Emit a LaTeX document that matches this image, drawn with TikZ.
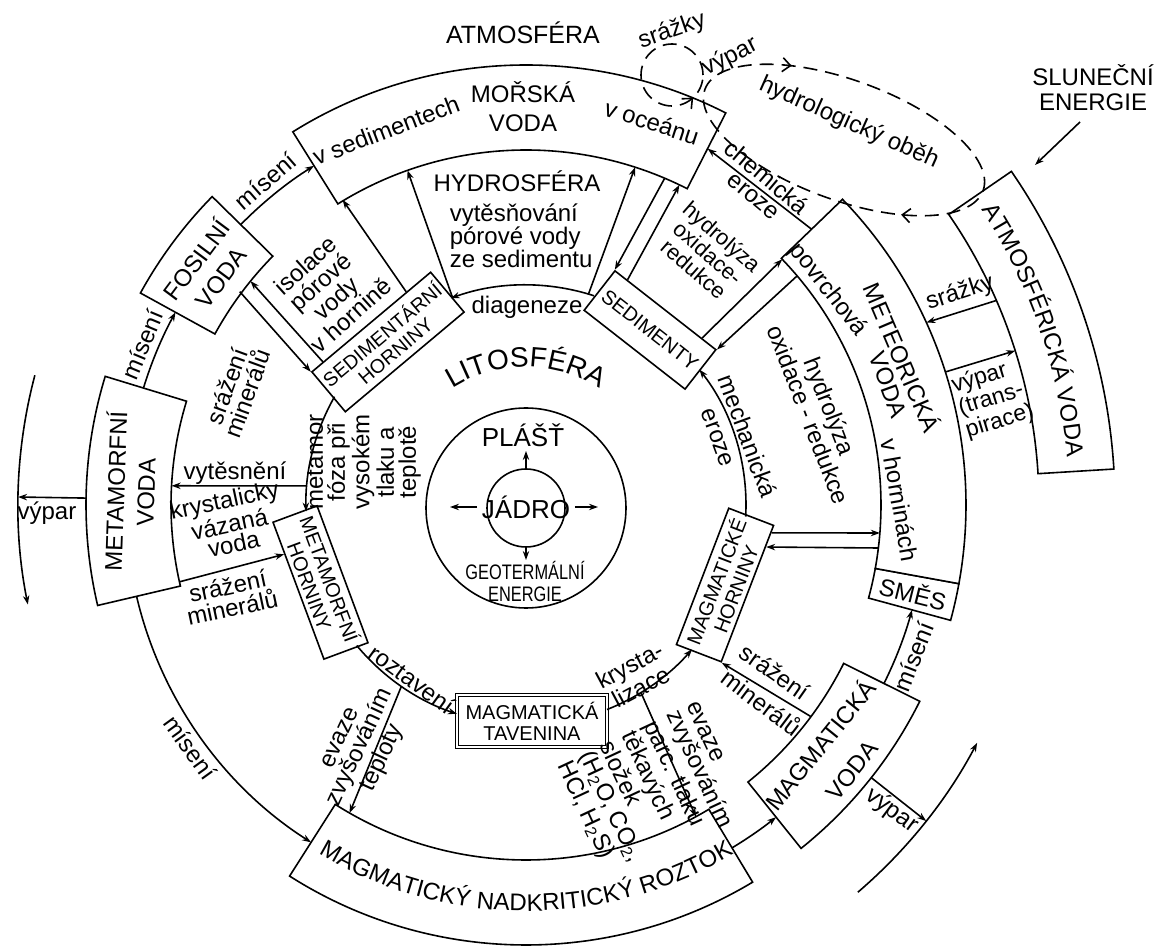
\documentclass[tikz,border=0pt]{standalone}
\usepackage{fontspec}
\usepackage{graphicx}
\setmainfont{Liberation Sans}
\usetikzlibrary{arrows.meta,decorations.text,decorations.markings,calc}
\newcommand{\ringsec}[2]{\draw[ringbox] (#1:355) arc[start angle=#1,end angle=#2,radius=355] -- (#2:440) arc[start angle=#2,end angle=#1,radius=440] -- cycle;}
\begin{document}
\begin{tikzpicture}[x=0.5pt,y=0.5pt,line width=0.8pt,
  every node/.style={inner sep=0pt,font=\fontsize{12}{11.5}\selectfont},
  arr/.style={-{Stealth[length=4.5pt,width=3.2pt]}},
  ringbox/.style={draw,fill=white},
  rbox/.style={draw,fill=white,align=center,font=\fontsize{10}{10.5}\selectfont},
  dsh/.style={dash pattern=on 7pt off 4pt},
  barb/.tip={Straight Barb[length=4pt,width=7pt]}]
\useasboundingbox (-526,-441) rectangle (629,505);

% ---------- ring sectors ----------
\ringsec{63}{122}
\ringsec{135.5}{151.2}
\ringsec{163}{193.2}
\ringsec{237.5}{301}
\ringsec{308.7}{333.5}
\ringsec{344.8}{349.7}
\ringsec{349.7}{404}
\draw[ringbox] (3.5:513) arc[start angle=3.5,end angle=34.5,radius=513] -- (34.5:589) arc[start angle=34.5,end angle=3.5,radius=589] -- cycle;

% ---------- outer circle arcs (mísení) ----------
\draw[arr] (135.5:400) arc[start angle=135.5,end angle=122,radius=400];
\draw[arr] (163:400) arc[start angle=163,end angle=151.2,radius=400];
\draw[arr] (193.2:400) arc[start angle=193.2,end angle=237.5,radius=400];
\draw[arr] (301:400) arc[start angle=301,end angle=308.7,radius=400];
\draw[arr] (333.5:400) arc[start angle=333.5,end angle=344.8,radius=400];
% výpar arcs
\draw[arr] (165.2:508) arc[start angle=165.2,end angle=191.3,radius=508];
\draw[arr] (179.1:440) -- (179.1:508);
\draw[arr] (-49.4:510) arc[start angle=-49.4,end angle=-27.8,radius=510];
\draw[arr] (-38.3:440) -- (-38.3:510);

% ---------- core ----------
\draw (0,-3) circle[radius=100];
\node[circle,draw,minimum size=39pt] (jadrocirc) at (0,-3) {};
\node[font=\fontsize{13}{13}\selectfont,inner sep=2pt] (jadro) at (0,-2) {JÁDRO};
\node[font=\fontsize{13}{13}\selectfont] (plast) at (-3,70) {PLÁŠŤ};
\node[align=center,font=\fontsize{10.5}{11}\selectfont] (geot) at (-1,-76) {\scalebox{0.78}[1]{GEOTERMÁLNÍ}\\\scalebox{0.78}[1]{ENERGIE}};
\coordinate (jl) at (-76,-2);
\coordinate (jr) at (72,-2);
\coordinate (ju) at (0,54);
\coordinate (jd) at (0,-55);
\draw[arr] (jadro.west) -- (jl);
\draw[arr] (jadro.east) -- (jr);
\draw[arr] (jadrocirc.north) -- (ju);
\draw[arr] (jadrocirc.south) -- (jd);

% ---------- lithosphere boxes ----------
\node[rbox,font=\fontsize{9.8}{10.3}\selectfont,minimum width=77.5pt,minimum height=26pt,rotate=40] (sedhor) at (-138,163) {SEDIMENTÁRNÍ\\HORNINY};
\node[rbox,minimum width=64pt,minimum height=25pt,rotate=-38] (sedim) at (124,175) {SEDIMENTY};
\node[rbox,minimum width=73pt,minimum height=24pt,rotate=69] (maghor) at (199,-80) {MAGMATICKÉ\\HORNINY};
\node[rbox,minimum width=73pt,minimum height=23.5pt,rotate=-69.6] (methor) at (-205.5,-77.5) {METAMORFNÍ\\HORNINY};
\node[rbox,double,double distance=0.8pt,minimum width=75pt,minimum height=26pt] (taven) at (6,-216) {MAGMATICKÁ\\TAVENINA};

% lithosphere arcs
\draw[arr] (72:220) arc[start angle=72,end angle=110,radius=220];
\draw[arr] (150.5:220) arc[start angle=150.5,end angle=181.7,radius=220];
\draw[arr] (219.7:220) arc[start angle=219.7,end angle=251.7,radius=220];
\draw[arr] (291.6:220) arc[start angle=291.6,end angle=319,radius=220];
\draw[arr] (-3:220) arc[start angle=-3,end angle=38,radius=220];

% ---------- connectors ----------
\draw[arr] (109.5:220) -- (109.5:355);
\draw[arr] (73.5:220) -- (72.1:355);
\draw[arr] (67:355) -- (sedim.north west);
\draw[arr] ($(sedim.north)!0.75!(sedim.north west)$) -- (64.4:355);
\draw[arr] (44:397) -- (63:400);
\draw[arr] ($(sedim.north)!0.71!(sedim.north east)$) -- (43.8:355);
\draw[arr] (40.2:355) -- (sedim.north east);
\draw[arr] ($(maghor.south)!0.886!(maghor.south east)$) -- (353.9,-28);
\draw[arr] (352.4,-43) -- ($(maghor.south)!0.68!(maghor.south east)$);
\draw[arr] (-36.6:355) -- (maghor.south west);
\draw[arr] (23.5:513) -- (24.5:440);
\draw[arr] (17.6:440) -- (17.5:513);
\draw[arr] (175:220) -- (-354.4,19.2);
\draw[arr] (192.5:355) -- ($(methor.south)!0.53!(methor.south west)$);
\draw[arr] ($(sedhor.north)!0.59!(sedhor.north east)$) -- (121:356);
\draw[arr] ($(sedhor.north)!0.8!(sedhor.north west)$) -- (140.9:355);
\draw[arr] (143.3:357) -- (sedhor.north west);
\draw[arr] (235.5:220) -- (240.2:355);
\draw[arr] (-58.5:220) -- (-61.4:355);

% ---------- hydrological cycle (dashed) ----------
\draw[dsh,postaction={decorate},decoration={markings,mark=at position 0.87 with {\arrow{barb}}}] (146,430) circle[radius=31];
\draw[dsh,rotate around={-20:(318,365)},postaction={decorate},decoration={markings,
   mark=at position 0.36 with {\arrowreversed{barb}},
   mark=at position 0.867 with {\arrowreversed{barb}}}] (318,365) ellipse[x radius=148,y radius=60];

% sun
\node[align=center,font=\fontsize{12}{12.5}\selectfont] (slunce) at (567,417) {SLUNEČNÍ\\ENERGIE};
\coordinate (sunA) at (554,383);
\coordinate (sunB) at (509,340);
\draw[arr] (sunA) -- (sunB);

% ---------- curved texts ----------
\path[decorate,decoration={text along path,text align=center,text={|\fontsize{12}{12}\selectfont|MAGMATICKÝ NADKRITICKÝ ROZTOK}}] (232:406) arc[start angle=232,end angle=308,radius=406];
\path[decorate,decoration={text along path,text align=center,text={|\fontsize{12}{12}\selectfont|ATMOSFÉRICKÁ VODA}}] (38:543) arc[start angle=38,end angle=0,radius=543];
\path[decorate,decoration={text along path,text align=center,text={|\fontsize{14}{14}\selectfont|LITOSFÉRA}}] (135:138) arc[start angle=135,end angle=45,radius=138];

% ---------- labels ----------
\node[font=\fontsize{12.5}{13}\selectfont] (atmosfera) at (-3,472) {ATMOSFÉRA};
\node[rotate=19] (srazkyA) at (146,474) {srážky};
\node[rotate=27] (vyparA) at (204,448) {výpar};
\node[rotate=-24] (hydob) at (323,382) {hydrologický oběh};
\node[align=center,font=\fontsize{12}{14.5}\selectfont] (morska) at (-3,398) {MOŘSKÁ\\VODA};
\node[rotate=21] (vsed) at (-140,375) {v sedimentech};
\node[rotate=-18] (voce) at (126,383) {v oceánu};
\node (hydrosf) at (-9,324) {HYDROSFÉRA};
\node[anchor=west,align=left] (vytes) at (-77,269) {vytěsňování\\pórové vody\\ze sedimentu};
\node (diag) at (1,198) {diageneze};
\node[rotate=42,align=center,font=\fontsize{12}{11.3}\selectfont] (isol) at (-198,215) {isolace\\pórové\\vody\\v hornině};
\node[rotate=53.35,align=center,font=\fontsize{12}{15}\selectfont] (fosil) at (143.35:397) {FOSILNÍ\\VODA};
\node[rotate=41] (mis1) at (128.8:416) {mísení};
\node[rotate=67.3] (mis2) at (157.3:416) {mísení};
\node[rotate=70,align=center,font=\fontsize{12}{10.8}\selectfont] (sraz1) at (-289,115) {srážení\\minerálů};
\node[rotate=88,align=center,font=\fontsize{12}{15}\selectfont] (metvoda) at (178.1:397) {METAMORFNÍ\\VODA};
\node (vypL) at (-479,-8) {výpar};
\node (vytesn) at (-291,32) {vytěsnění};
\node[rotate=90,align=center,font=\fontsize{12}{11}\selectfont] (metamorf) at (-162,43) {metamor\\fóza při\\vysokém\\tlaku a\\teplotě};
\node[rotate=12,align=center,font=\fontsize{12}{10.2}\selectfont] (kryst) at (-297,-17) {krystalicky\\vázaná\\voda};
\node[rotate=12,align=center,font=\fontsize{12}{11}\selectfont] (sraz2) at (-296,-92) {srážení\\minerálů};
\node[rotate=-54.2] (mis3) at (215.8:414) {mísení};
\node[rotate=-36] (roztav) at (-114,-174) {roztavení};
\node[rotate=65,align=center,font=\fontsize{12}{11}\selectfont] (evaze1) at (-163,-244) {evaze\\zvyšováním\\teploty};
\node[rotate=28,align=center,font=\fontsize{12}{10.5}\selectfont] (krystal) at (109,-171) {krysta-\\lizace};
\node[rotate=-65,anchor=west,align=left,font=\fontsize{12}{11}\selectfont] (evaze2) at (99,-228) {evaze\\zvyšováním\\parc. tlaku\\těkavých\\složek\\(H\textsubscript{2}O, CO\textsubscript{2},\\HCl, H\textsubscript{2}S)};
\node[rotate=-35] (sraz3a) at (249,-167) {srážení};
\node[rotate=-37] (sraz3b) at (236,-197) {minerálů};
\node[rotate=68.6] (mis4) at (338.6:416) {mísení};
\node[rotate=51.1,align=center,font=\fontsize{12}{20}\selectfont] (magvoda) at (320.8:398.7) {MAGMATICKÁ\\VODA};
\node[rotate=-14] (smes) at (-12.75:397) {SMĚS};
\node[rotate=-36.5] (vypR) at (366,-306) {výpar};
\node[rotate=-80] (vhorn) at (374,5) {v horninách};
\node[rotate=-67] (meteo) at (377,148) {METEORICKÁ};
\node[rotate=-70] (meteov) at (362,120) {VODA};
\node[rotate=-52] (povrch) at (302,215) {povrchová};
\node[rotate=-69,align=center,font=\fontsize{12}{11.5}\selectfont] (hydro2) at (293.5,94.5) {hydrolýza\\oxidace - redukce};
\node[rotate=-70] (mech) at (222,69) {mechanická};
\node[rotate=-70] (eroze1) at (191,67) {eroze};
\node[rotate=18] (srazkyR) at (434,212) {srážky};
\node[rotate=17,align=left,font=\fontsize{11.5}{9.8}\selectfont] (vypT) at (467,106) {výpar\\(trans-\\pirace)};
\node[rotate=-40] (chem) at (241,328) {chemická};
\node[rotate=-40] (eroze2) at (227,308) {eroze};
\node[rotate=-41,align=center,font=\fontsize{11}{10.75}\selectfont] (hydro1) at (182,252) {hydrolýza\\oxidace-\\redukce};
\end{tikzpicture}
\end{document}
